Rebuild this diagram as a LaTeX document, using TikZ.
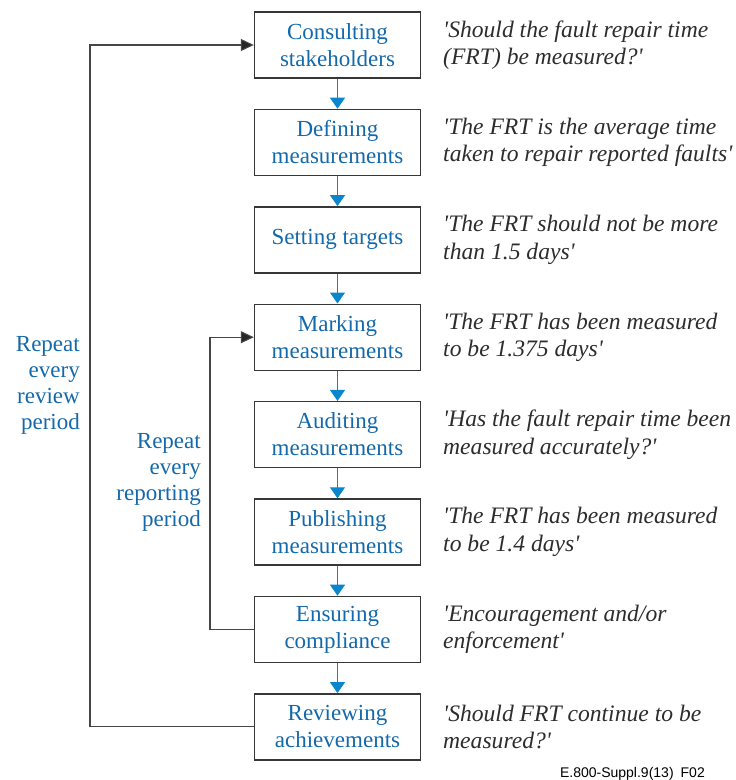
\documentclass[tikz,border=0pt]{standalone}
\usepackage{fontspec}
\setmainfont{LiberationSerif}[Extension=.ttf,UprightFont=*-Regular,ItalicFont=*-Italic,BoldFont=*-Bold]
\newfontfamily\qfont{LiberationSerif}[Extension=.ttf,UprightFont=*-Regular,ItalicFont=*-Italic]
\setsansfont{Liberation Sans}
\usetikzlibrary{arrows.meta}
\definecolor{tblue}{RGB}{20,105,170}
\definecolor{ablue}{RGB}{10,134,204}
\definecolor{bgray}{RGB}{55,55,55}
\definecolor{lgray}{RGB}{70,70,70}
\definecolor{qgray}{RGB}{45,45,45}
\begin{document}
\begin{tikzpicture}[x=1pt,y=-1pt,
  stepbox/.style={draw=bgray,line width=1.4pt,minimum width=166pt,minimum height=66pt,inner sep=0pt,align=center,text=tblue,font=\fontsize{23}{27}\selectfont},
  quote/.style={anchor=west,align=left,text=qgray,inner sep=0pt,font=\qfont\itshape\fontsize{23.6}{27.5}\selectfont},
  replabel/.style={anchor=east,align=right,text=tblue,inner sep=0pt,font=\fontsize{23}{26}\selectfont},
  flow/.style={draw=ablue,line width=1.2pt,-{Triangle[width=15pt,length=11pt]}},
  loopline/.style={draw=lgray,line width=1.1pt,-{Triangle[width=12pt,length=13pt,fill=black!85]}}]
\useasboundingbox (0,0) rectangle (736,780);
% boxes
\node[stepbox] (n1) at (337.5,45) {Consulting\\stakeholders};
\node[stepbox] (n2) at (337.5,142.4) {Defining\\measurements};
\node[stepbox] (n3) at (337.5,239.8) {Setting targets};
\node[stepbox] (n4) at (337.5,337.2) {Marking\\measurements};
\node[stepbox] (n5) at (337.5,434.6) {Auditing\\measurements};
\node[stepbox] (n6) at (337.5,532) {Publishing\\measurements};
\node[stepbox] (n7) at (337.5,629.4) {Ensuring\\compliance};
\node[stepbox] (n8) at (337.5,726.8) {Reviewing\\achievements};
% flow arrows
\draw[flow] (n1) -- (n2);
\draw[flow] (n2) -- (n3);
\draw[flow] (n3) -- (n4);
\draw[flow] (n4) -- (n5);
\draw[flow] (n5) -- (n6);
\draw[flow] (n6) -- (n7);
\draw[flow] (n7) -- (n8);
% quotes
\node[quote] (q1) at (443,45) {'Should the fault repair time\\(FRT) be measured?'};
\node[quote] (q2) at (443,142.4) {'The FRT is the average time\\taken to repair reported faults'};
\node[quote] (q3) at (443,239.8) {'The FRT should not be more\\than 1.5 days'};
\node[quote] (q4) at (443,337.2) {'The FRT has been measured\\to be 1.375 days'};
\node[quote] (q5) at (443,434.6) {'Has the fault repair time been\\measured accurately?'};
\node[quote] (q6) at (443,532) {'The FRT has been measured\\to be 1.4 days'};
\node[quote] (q7) at (443,629.4) {'Encouragement and/or\\enforcement'};
\node[quote] (q8) at (443,726.8) {'Should FRT continue to be\\measured?'};
% loops
\coordinate (ob) at (90,726.8);
\coordinate (ot) at (90,45);
\draw[loopline] (n8.west) -- (ob) -- (ot) -- (n1.west);
\coordinate (ib) at (210,629.4);
\coordinate (it) at (210,337.2);
\draw[loopline] (n7.west) -- (ib) -- (it) -- (n4.west);
% loop labels
\node[replabel] (r1) at (80,385) {Repeat\\every\\review\\period};
\node[replabel] (r2) at (201,482) {Repeat\\every\\reporting\\period};
% footer
\node[anchor=base east,inner sep=0pt,font=\sffamily\fontsize{14}{16}\selectfont,text=black] (ft) at (705,777) {E.800-Suppl.9(13)\hspace{7pt}F02};
\end{tikzpicture}
\end{document}
